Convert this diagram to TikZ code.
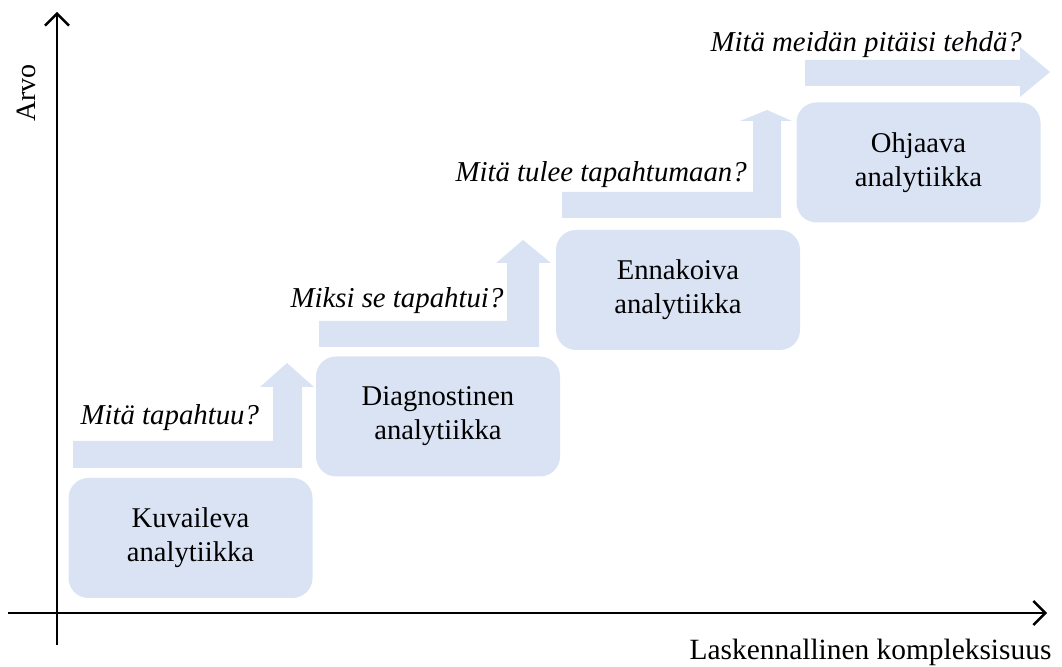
\documentclass[tikz,border=0pt]{standalone}
\usepackage{fontspec}
\setmainfont{Liberation Serif}
\usepackage{xcolor}
\usetikzlibrary{arrows.meta}
\definecolor{stagefill}{RGB}{218,227,243}

\begin{document}
\begin{tikzpicture}[x=0.5pt,y=-0.5pt,semithick]
	\tikzstyle{stage}=[fill=stagefill, draw=none, rounded corners=10pt, minimum width=122pt, minimum height=60pt, align=center, font=\fontsize{14.3}{17}\selectfont]
	\tikzstyle{question}=[anchor=base west, inner sep=0pt, font=\fontsize{14.4}{16}\selectfont\itshape]
	\tikzstyle{bent}=[fill=stagefill, draw=none]
	\tikzstyle{axis}=[line width=1.2pt, -{Straight Barb[length=6pt,width=12pt]}]
	\useasboundingbox (0,0) rectangle (1062,667);

	% axes
	\coordinate (o) at (57,645);
	\coordinate (ytop) at (57,12);
	\coordinate (xleft) at (8,613);
	\coordinate (xright) at (1047,613);
	\draw[axis] (o) -- (ytop);
	\draw[axis] (xleft) -- (xright);
	\node[rotate=90, font=\fontsize{14}{16}\selectfont] (arvo) at (26,93) {Arvo};
	\node[anchor=base east, inner sep=0pt, font=\fontsize{14.7}{16}\selectfont] (lk) at (1052,660) {Laskennallinen kompleksisuus};

	% stages
	\node[stage] (kuv) at (190.5,538) {Kuvaileva\\analytiikka};
	\node[stage] (diag) at (438,416.5) {Diagnostinen\\analytiikka};
	\node[stage] (enn) at (678,290) {Ennakoiva\\analytiikka};
	\node[stage] (ohj) at (918.5,162.5) {Ohjaava\\analytiikka};

	% bent arrows
	\fill[bent] (73,468) -- (302,468) -- (302,387) -- (314,387) -- (287,363) -- (260,387) -- (273,387) -- (273,441) -- (73,441) -- cycle;
	\fill[bent] (319,347) -- (539,347) -- (539,263) -- (551,263) -- (523,240) -- (496,263) -- (507,263) -- (507,321) -- (319,321) -- cycle;
	\fill[bent] (562,218) -- (781,218) -- (781,121) -- (792,121) -- (767,110) -- (740,121) -- (753,121) -- (753,192) -- (562,192) -- cycle;
	\fill[bent] (805,60) -- (1020,60) -- (1020,47) -- (1050,72) -- (1020,97) -- (1020,86) -- (805,86) -- cycle;

	% questions
	\node[question] (q1) at (80,425) {Mitä tapahtuu?};
	\node[question] (q2) at (290,308) {Miksi se tapahtui?};
	\node[question] (q3) at (455,182) {Mitä tulee tapahtumaan?};
	\node[question] (q4) at (710,52) {Mitä meidän pitäisi tehdä?};
\end{tikzpicture}
\end{document}
